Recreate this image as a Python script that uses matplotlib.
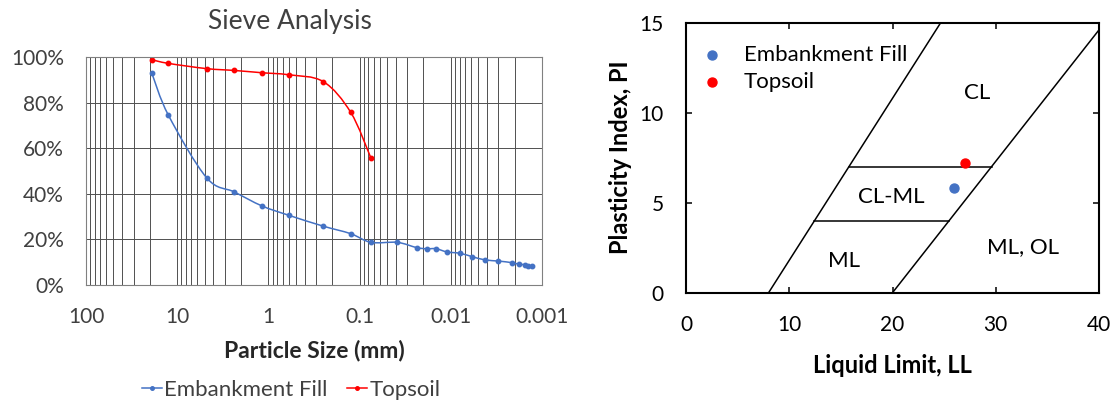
import matplotlib.pyplot as plt
import matplotlib.ticker as mticker
from matplotlib.path import Path
from matplotlib.patches import PathPatch
from matplotlib.lines import Line2D
import numpy as np

plt.rcParams['font.family'] = ['Lato', 'DejaVu Sans']

# Sieve analysis data (particle size in mm, percent passing)
fill_size = [19.0, 12.5, 4.75, 2.36, 1.18, 0.6, 0.25, 0.125, 0.075, 0.0386, 0.0237,
             0.0184, 0.0145, 0.011, 0.0079, 0.0058, 0.0042, 0.003, 0.00214, 0.00178,
             0.00153, 0.00141, 0.00128]
fill_pass = [93.0, 74.5, 47.0, 40.8, 34.7, 30.6, 25.8, 22.5, 18.7, 18.7, 16.4,
             15.9, 15.9, 14.5, 13.9, 12.4, 11.0, 10.5, 9.8, 9.1, 8.9, 8.3, 8.3]
top_size = [19.0, 12.5, 4.75, 2.36, 1.18, 0.6, 0.25, 0.125, 0.075]
top_pass = [98.8, 97.2, 94.9, 94.1, 93.1, 92.2, 89.2, 75.7, 55.6]

# Atterberg limits
names = ['Embankment Fill', 'Topsoil']
ll = [26, 27]
pi = [5.8, 7.2]
colors = ['#4472C4', '#FF0000']

# Plasticity chart boundary lines (U-line and A-line)
u_ll = [8, 8 + 15 / 0.9]
u_pi = [0, 15]
a_ll = [20, 40]
a_pi = [0, 0.73 * 20]
clml_pi = [4, 7]
zone_labels = ['CL', 'CL-ML', 'ML', 'ML, OL']
zone_ll = [28.2, 19.85, 15.3, 32.6]
zone_pi = [10.76, 4.97, 1.44, 2.19]


# Excel-like smoothed line: cubic bezier through the points (log x space)
def smooth_path(xs, ys):
    lx = np.log10(xs)
    ys = np.asarray(ys, float)
    n = len(lx)
    verts = [(xs[0], ys[0])]
    codes = [Path.MOVETO]
    for i in range(n - 1):
        i0 = max(i - 1, 0)
        i3 = min(i + 2, n - 1)
        c1x = lx[i] + (lx[i + 1] - lx[i0]) / 6
        c1y = ys[i] + (ys[i + 1] - ys[i0]) / 6
        c2x = lx[i + 1] - (lx[i3] - lx[i]) / 6
        c2y = ys[i + 1] - (ys[i3] - ys[i]) / 6
        verts += [(10 ** c1x, c1y), (10 ** c2x, c2y), (xs[i + 1], ys[i + 1])]
        codes += [Path.CURVE4] * 3
    return Path(verts, codes)


fig = plt.figure(figsize=(11.17, 4.04), dpi=100)

# ---- Sieve analysis ----
ax1 = fig.add_axes([86 / 1117, 119 / 404, 456 / 1117, 228 / 404])
for xs, ys, c in [(fill_size, fill_pass, colors[0]), (top_size, top_pass, colors[1])]:
    ax1.add_patch(PathPatch(smooth_path(xs, ys), fill=False, edgecolor=c, lw=1.1))
    ax1.plot(xs, ys, ls='none', color=c, marker='o', ms=3.2)
ax1.set_xscale('log')
ax1.set_xlim(100, 0.001)
ax1.set_ylim(0, 100)
ax1.xaxis.set_major_locator(mticker.LogLocator(base=10, numticks=10))
ax1.xaxis.set_minor_locator(mticker.LogLocator(base=10, subs=np.arange(2, 10), numticks=10))
ax1.xaxis.set_minor_formatter(mticker.NullFormatter())
ax1.xaxis.set_major_formatter(mticker.FuncFormatter(lambda v, p: f'{v:g}'))
ax1.yaxis.set_major_locator(mticker.MultipleLocator(20))
ax1.yaxis.set_major_formatter(mticker.FuncFormatter(lambda v, p: f'{v:.0f}%'))
ax1.grid(which='both', axis='x', color='#505050', lw=0.7)
ax1.grid(which='major', axis='y', color='#505050', lw=0.7)
ax1.set_axisbelow(True)
ax1.tick_params(which='both', length=0, labelsize=15, colors='#404040', pad=16)
for s in ax1.spines.values():
    s.set_color('#808080')
ax1.set_xlabel('Particle Size (mm)', fontsize=16.5, fontweight='bold', color='#262626')
ax1.xaxis.set_label_coords(0.5, -0.241)
fig.text(290 / 1117, 1 - 29 / 404, 'Sieve Analysis', ha='center', va='baseline', fontsize=19, color='#404040')
handles = [Line2D([], [], color=c, lw=1.1, marker='o', ms=3.2) for c in colors]
ax1.legend(handles, names, loc='center', bbox_to_anchor=(291 / 1117, 1 - 390 / 404),
           bbox_transform=fig.transFigure, ncol=2, frameon=False, fontsize=16, handlelength=0.9,
           handletextpad=0.1, columnspacing=0.9, borderpad=0, labelcolor='#404040', markerscale=0.8)

# ---- Plasticity chart ----
ax2 = fig.add_axes([686 / 1117, 111.3 / 404, 413 / 1117, 270 / 404])
for x, y, n, c in zip(ll, pi, names, colors):
    ax2.scatter(x, y, s=42, color=c, label=n, zorder=3)
ax2.plot(u_ll, u_pi, color='black', lw=1.1)
ax2.plot(a_ll, a_pi, color='black', lw=1.1)
for p in clml_pi:
    ax2.plot([8 + p / 0.9, 20 + p / 0.73], [p, p], color='black', lw=1.1)
for t, x, y in zip(zone_labels, zone_ll, zone_pi):
    ax2.text(x, y, t, ha='center', va='baseline', fontsize=16)
ax2.set_xlim(0, 40)
ax2.set_ylim(0, 15)
ax2.set_xticks([0, 10, 20, 30, 40])
ax2.set_yticks([0, 5, 10, 15])
ax2.tick_params(direction='in', top=True, right=True, length=4.5, width=1.1, labelsize=15, pad=16)
for s in ax2.spines.values():
    s.set_linewidth(1.5)
ax2.set_xlabel('Liquid Limit, LL', fontsize=17, fontweight='bold')
ax2.xaxis.set_label_coords(0.5, -0.227)
ax2.set_ylabel('Plasticity Index, PI', fontsize=17, fontweight='bold')
ax2.yaxis.set_label_coords(-0.131, 0.5)
ax2.legend(loc='upper left', bbox_to_anchor=(0.036, 0.917), frameon=False, fontsize=16,
           handlelength=1.0, handletextpad=0.94, labelspacing=0.32, borderpad=0,
           borderaxespad=0, scatterpoints=1)

fig.savefig('out.png', dpi=100)
